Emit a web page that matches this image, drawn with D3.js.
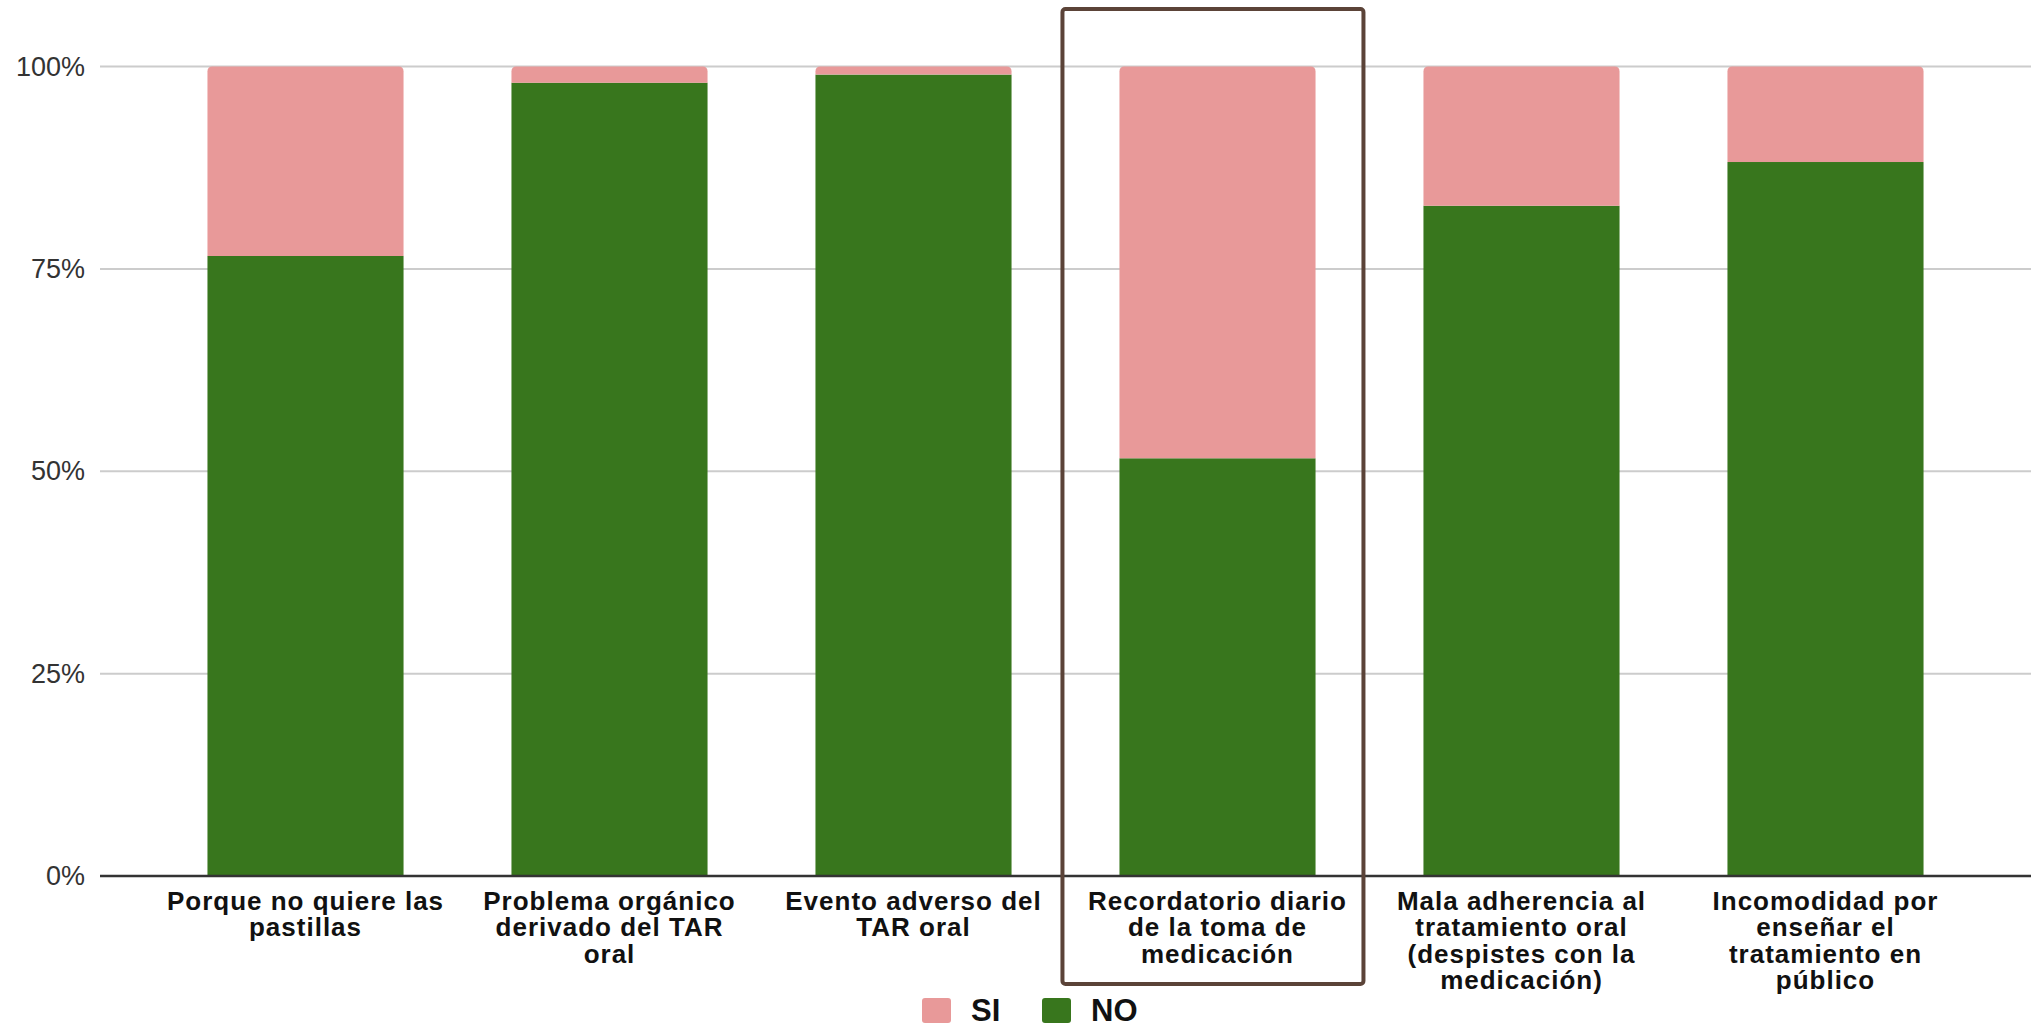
<!DOCTYPE html>
<html><head><meta charset="utf-8">
<script src="https://cdn.jsdelivr.net/npm/d3@7"></script>
<style>body{margin:0;background:#fff;}svg{display:block;}</style>
</head><body>
<svg id="c" width="2044" height="1027"></svg>
<script>
const categories = [
  ["Porque no quiere las","pastillas"],
  ["Problema orgánico","derivado del TAR","oral"],
  ["Evento adverso del","TAR oral"],
  ["Recordatorio diario","de la toma de","medicación"],
  ["Mala adherencia al","tratamiento oral","(despistes con la","medicación)"],
  ["Incomodidad por","enseñar el","tratamiento en","público"]
];
const noValues = [76.6, 98.0, 99.0, 51.6, 82.8, 88.2];
const siValues = [23.4, 2.0, 1.0, 48.4, 17.2, 11.8];
const yTicks = [0, 25, 50, 75, 100];
const seriesNames = ["SI", "NO"];
const colors = {SI: "#e89999", NO: "#38761d"};
const highlighted = 3;

const svg = d3.select("#c");
const x = d3.scaleBand().domain(d3.range(categories.length)).range([100, 2031]).paddingInner(0.355).paddingOuter(0.3535);
const y = d3.scaleLinear().domain([0, 100]).range([876, 66.5]);

// gridlines
svg.append("g").selectAll("line").data(yTicks.filter(t => t > 0)).join("line")
  .attr("x1", 100).attr("x2", 2031).attr("y1", d => y(d)).attr("y2", d => y(d))
  .attr("stroke", "#cccccc").attr("stroke-width", 2);

// y axis labels
const yAxis = d3.axisLeft(y).tickValues(yTicks).tickFormat(d => d + "%").tickSize(0).tickPadding(15);
const ga = svg.append("g").attr("transform", "translate(100,0)").call(yAxis);
ga.select(".domain").remove();
ga.selectAll("text").attr("font-family", "Liberation Sans, Arial, sans-serif").attr("font-size", 27).attr("fill", "#333");

// bars
const data = categories.map((c, i) => ({i, no: noValues[i], si: siValues[i]}));
const g = svg.append("g");
g.selectAll("rect.no").data(data).join("rect").attr("class", "no")
  .attr("x", d => x(d.i)).attr("width", x.bandwidth())
  .attr("y", d => y(d.no)).attr("height", d => y(0) - y(d.no))
  .attr("fill", colors.NO);
const r = 5;
g.selectAll("path.si").data(data).join("path").attr("class", "si")
  .attr("d", d => {
    const x0 = x(d.i), x1 = x0 + x.bandwidth();
    const yt = y(d.no + d.si), yb = y(d.no);
    const rr = Math.min(r, (yb - yt));
    return `M${x0},${yb}L${x0},${yt + rr}Q${x0},${yt} ${x0 + rr},${yt}L${x1 - rr},${yt}Q${x1},${yt} ${x1},${yt + rr}L${x1},${yb}Z`;
  })
  .attr("fill", colors.SI);

// baseline
svg.append("line").attr("x1", 100).attr("x2", 2031).attr("y1", y(0)).attr("y2", y(0))
  .attr("stroke", "#333").attr("stroke-width", 2.5);

// category labels
const lab = svg.append("g");
categories.forEach((lines, i) => {
  const t = lab.append("text").attr("x", x(i) + x.bandwidth() / 2).attr("y", 910)
    .attr("text-anchor", "middle").attr("font-family", "Liberation Sans, Arial, sans-serif")
    .attr("font-weight", "bold").attr("font-size", 26).attr("letter-spacing", 1).attr("fill", "#111");
  lines.forEach((l, k) => t.append("tspan").attr("x", x(i) + x.bandwidth() / 2).attr("dy", k === 0 ? 0 : 26.3).text(l));
});

// highlight box
svg.append("rect").attr("x", x(highlighted) - 57).attr("y", 9).attr("width", 301).attr("height", 975)
  .attr("rx", 3).attr("fill", "none").attr("stroke", "#5b4338").attr("stroke-width", 4);

// legend
const leg = svg.append("g");
const legPos = [922, 1042];
seriesNames.forEach((s, k) => {
  leg.append("rect").attr("x", legPos[k]).attr("y", 998).attr("width", 29).attr("height", 25).attr("rx", 3).attr("fill", colors[s]);
  leg.append("text").attr("x", legPos[k] + 49).attr("y", 1021).attr("font-family", "Liberation Sans, Arial, sans-serif")
    .attr("font-weight", "bold").attr("font-size", 31).attr("fill", "#111").text(s);
});
</script>
</body></html>
